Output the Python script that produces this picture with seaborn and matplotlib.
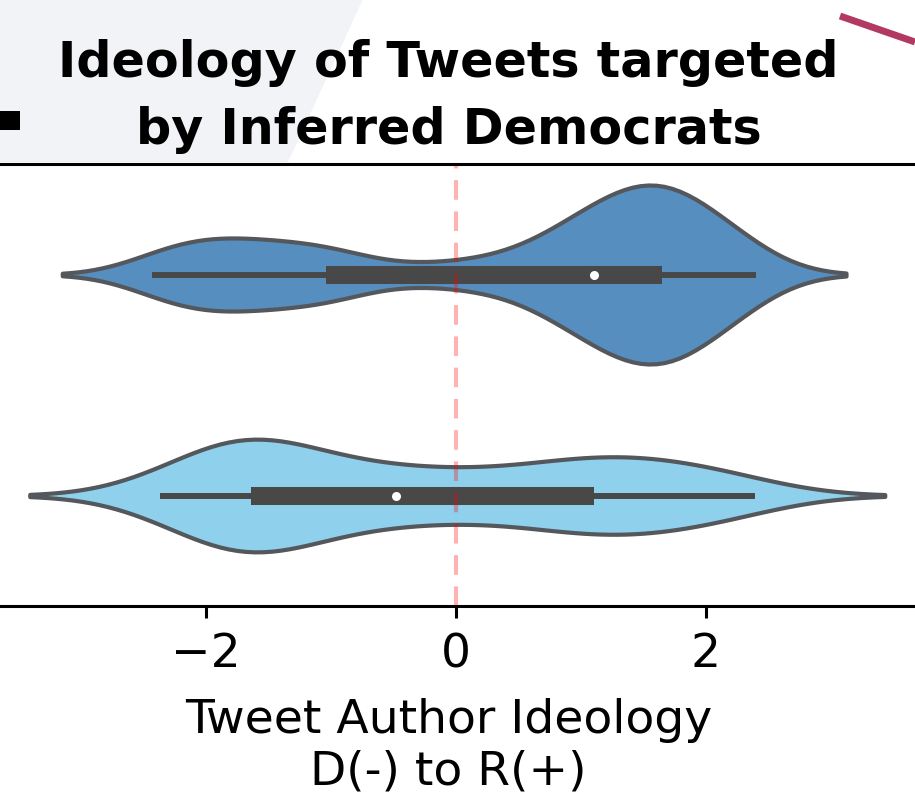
import numpy as np
import pandas as pd
import matplotlib
matplotlib.use("Agg")
import matplotlib.pyplot as plt
from matplotlib.patches import Polygon, Rectangle
from matplotlib.lines import Line2D
import seaborn as sns

# Author ideology scores (D negative, R positive) of tweets targeted by inferred Democrats
groups = ["Targeted", "Baseline"]
targeted_ideology = [
    -2.43, -2.28, -2.14, -2.00, -1.87, -1.74, -1.60, -1.45, -1.27, -1.06,
    -1.03, -0.75, -0.20, 0.20, 0.50, 0.70, 0.84, 0.95, 1.02, 1.06,
    1.14, 1.22, 1.30, 1.36, 1.42, 1.47, 1.52, 1.56, 1.60, 1.64,
    1.68, 1.73, 1.79, 1.85, 1.92, 2.00, 2.08, 2.16, 2.26, 2.40,
]
baseline_ideology = [
    -2.37, -2.20, -2.05, -1.95, -1.87, -1.80, -1.75, -1.70, -1.67, -1.66,
    -1.63, -1.55, -1.46, -1.37, -1.28, -1.18, -1.05, -0.88, -0.70, -0.54,
    -0.42, -0.25, -0.05, 0.15, 0.35, 0.55, 0.72, 0.86, 0.97, 1.07,
    1.19, 1.28, 1.38, 1.50, 1.62, 1.76, 1.90, 2.05, 2.20, 2.39,
]
xticks = [-2, 0, 2]
title = "Ideology of Tweets targeted\nby Inferred Democrats"
xlabel = "Tweet Author Ideology\nD(-) to R(+)"

sns.set_style("white")
plt.rcParams["font.family"] = ["DejaVu Sans"]
plt.rcParams.update({"text.color": "black", "axes.labelcolor": "black",
                     "xtick.color": "black", "ytick.color": "black"})

W, H = 915, 803
fig = plt.figure(figsize=(W / 100, H / 100), dpi=100)
ax_left, ax_right = -18, 915
ax = fig.add_axes([ax_left / W, 1 - 607 / H, (ax_right - ax_left) / W, (607 - 165) / H])

df = pd.DataFrame({
    "ideology": targeted_ideology + baseline_ideology,
    "group": [groups[0]] * len(targeted_ideology) + [groups[1]] * len(baseline_ideology),
})

styles = [
    (groups[0], targeted_ideology, "#568ec0", 0.36, 0.81),
    (groups[1], baseline_ideology, "#8fd1ed", 0.52, 0.51),
]
for name, vals, col, bw, wid in styles:
    sub = df[df["group"] == name]
    sns.violinplot(
        data=sub, x="ideology", y="group", order=groups,
        color=col, saturation=1, linewidth=3, linecolor="#54585c",
        inner="box",
        inner_kws=dict(box_width=13, whis_width=4.3, marker="o",
                       markersize=6.5, markerfacecolor="#f2f2f2",
                       markeredgecolor="#f2f2f2", markeredgewidth=0,
                       color="#484848", solid_capstyle="butt"),
        bw_method=bw / np.std(vals, ddof=1), cut=2, width=wid, ax=ax,
    )

ax.axvline(0, color="red", alpha=0.3, linewidth=3, linestyle=(0, (4.7, 2.8)))

ax.set_xlim((ax_left - 456) / 125, (ax_right - 456) / 125)
ax.set_xticks(xticks)
ax.set_yticks([])
ax.set_ylabel("")
ax.set_xlabel(xlabel, fontsize=34, labelpad=15)
ax.set_title(title, fontsize=35.5, fontweight="bold", pad=15, linespacing=1.5)
ax.tick_params(axis="x", labelsize=34, length=8.5, width=2.2, pad=9.5,
               color="black", bottom=True)
for side in ["left", "right"]:
    ax.spines[side].set_visible(False)
for side in ["top", "bottom"]:
    ax.spines[side].set_visible(True)
    ax.spines[side].set_color("black")
    ax.spines[side].set_linewidth(2.2)

# neighbouring panel fragments around the title
def px(x, y):
    return (x / W, 1 - y / H)

fig.patches.append(Polygon([px(0, 0), px(363, 0), px(288, 163), px(0, 163)],
                           closed=True, facecolor="#f2f3f7", edgecolor="none",
                           transform=fig.transFigure, zorder=-1))
fig.patches.append(Rectangle(px(0, 131), 20 / W, 19 / H, facecolor="black",
                             edgecolor="none", transform=fig.transFigure))
fig.lines.append(Line2D([840 / W, 1.0], [1 - 17 / H, 1 - 43 / H], color="#b23a62",
                        linewidth=5, solid_capstyle="butt", transform=fig.transFigure))

fig.savefig("out.png", dpi=100)
